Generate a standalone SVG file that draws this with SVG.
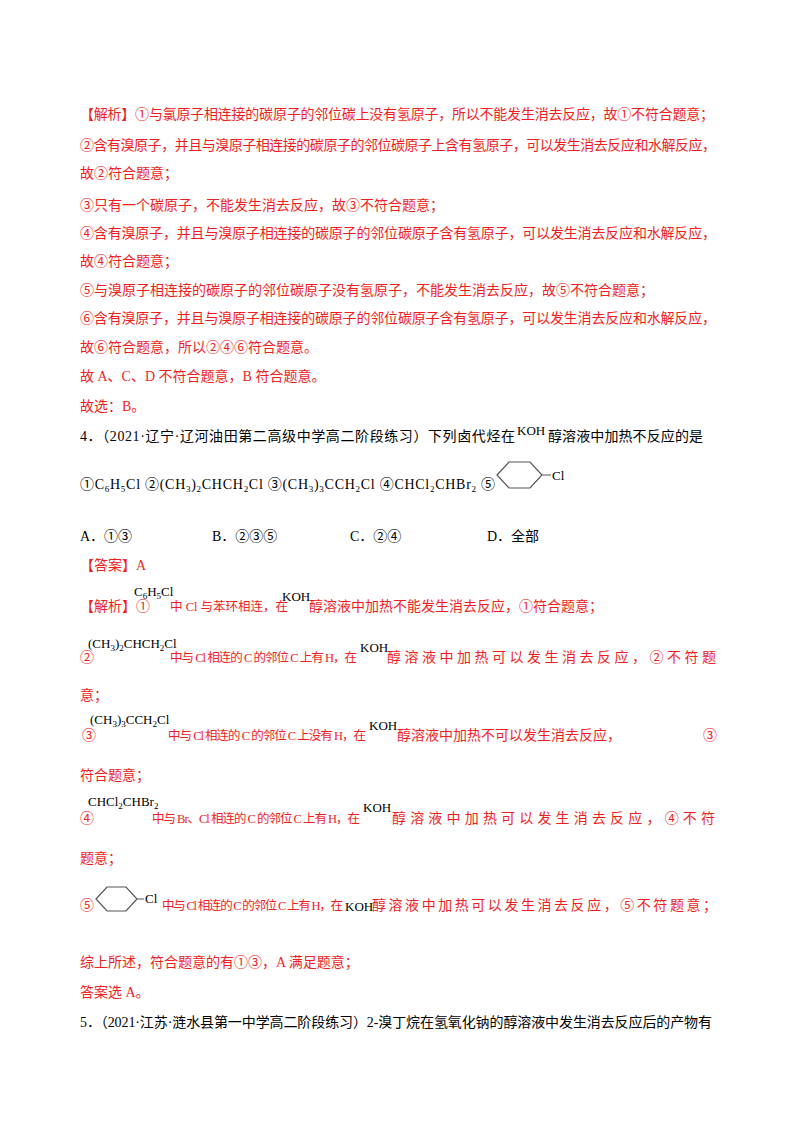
<svg xmlns="http://www.w3.org/2000/svg" width="800" height="1132" viewBox="0 0 800 1132">
<style>
text{font-family:"Liberation Serif","Noto Sans CJK SC",serif;font-size:14px}
.r{fill:#f01e1e}
.k{fill:#000}
.n{font-size:12.5px}
.f{font-family:"Liberation Serif",serif;font-size:13px;fill:#000}
.s{font-size:9px}
.ring{fill:none;stroke:#555;stroke-width:1.2}
</style>
<rect width="800" height="1132" fill="#fff"/>
<g class="r">
<text x="80" y="119" class="r" textLength="634">【解析】①与氯原子相连接的碳原子的邻位碳上没有氢原子，所以不能发生消去反应，故①不符合题意；</text>
<text x="80" y="150" class="r" textLength="636">②含有溴原子，并且与溴原子相连接的碳原子的邻位碳原子上含有氢原子，可以发生消去反应和水解反应，</text>
<text x="80" y="178" class="r">故②符合题意；</text>
<text x="80" y="210" class="r">③只有一个碳原子，不能发生消去反应，故③不符合题意；</text>
<text x="80" y="238" class="r" textLength="636">④含有溴原子，并且与溴原子相连接的碳原子的邻位碳原子含有氢原子，可以发生消去反应和水解反应，</text>
<text x="80" y="266" class="r">故④符合题意；</text>
<text x="80" y="295" class="r">⑤与溴原子相连接的碳原子的邻位碳原子没有氢原子，不能发生消去反应，故⑤不符合题意；</text>
<text x="80" y="323" class="r" textLength="636">⑥含有溴原子，并且与溴原子相连接的碳原子的邻位碳原子含有氢原子，可以发生消去反应和水解反应，</text>
<text x="80" y="352" class="r">故⑥符合题意，所以②④⑥符合题意。</text>
<text x="80" y="381" class="r">故 A、C、D 不符合题意，B 符合题意。</text>
<text x="80" y="411" class="r">故选：B。</text>
</g>
<g id="q4">
<text x="80" y="441" class="k" textLength="435">4．（2021·辽宁·辽河油田第二高级中学高二阶段练习）下列卤代烃在</text>
<text x="517" y="435" class="f">KOH</text>
<text x="548" y="441" class="k" textLength="155">醇溶液中加热不反应的是</text>
<text x="80" y="489" class="k" textLength="415">①C<tspan class="s" dy="3">6</tspan><tspan dy="-3">H</tspan><tspan class="s" dy="3">5</tspan><tspan dy="-3">Cl  ②(CH</tspan><tspan class="s" dy="3">3</tspan><tspan dy="-3">)</tspan><tspan class="s" dy="3">2</tspan><tspan dy="-3">CHCH</tspan><tspan class="s" dy="3">2</tspan><tspan dy="-3">Cl  ③(CH</tspan><tspan class="s" dy="3">3</tspan><tspan dy="-3">)</tspan><tspan class="s" dy="3">3</tspan><tspan dy="-3">CCH</tspan><tspan class="s" dy="3">2</tspan><tspan dy="-3">Cl  ④CHCl</tspan><tspan class="s" dy="3">2</tspan><tspan dy="-3">CHBr</tspan><tspan class="s" dy="3">2</tspan><tspan dy="-3">  ⑤</tspan></text>
<path class="ring" d="M497,475 L509,462 L530,462 L542,475 L530,488 L509,488 Z M542,475 L551,475"/>
<text x="552" y="480" class="f">Cl</text>
<text x="80" y="541" class="k">A．①③</text>
<text x="212" y="541" class="k">B．②③⑤</text>
<text x="350" y="541" class="k">C．②④</text>
<text x="487" y="541" class="k">D．全部</text>
</g>
<g id="answer">
<text x="80" y="570" class="r">【答案】A</text>
<text x="80" y="611" class="r">【解析】①</text>
<text x="134" y="596" class="f">C<tspan class="s" dy="3">6</tspan><tspan dy="-3">H</tspan><tspan class="s" dy="3">5</tspan><tspan dy="-3">Cl</tspan></text>
<text x="170" y="611" class="r n">中 Cl 与苯环相连，在</text>
<text x="282" y="601" class="f">KOH</text>
<text x="309" y="611" class="r">醇溶液中加热不能发生消去反应，①符合题意；</text>
<text x="80" y="662" class="r">②</text>
<text x="88" y="648" class="f">(CH<tspan class="s" dy="3">3</tspan><tspan dy="-3">)</tspan><tspan class="s" dy="3">2</tspan><tspan dy="-3">CHCH</tspan><tspan class="s" dy="3">2</tspan><tspan dy="-3">Cl</tspan></text>
<text x="170" y="662" class="r n" textLength="187">中与 Cl 相连的 C 的邻位 C 上有 H，在</text>
<text x="360" y="652" class="f">KOH</text>
<text x="387" y="662" class="r" textLength="329">醇溶液中加热可以发生消去反应，②不符题</text>
<text x="80" y="700" class="r">意；</text>
<text x="82" y="740" class="r">③</text>
<text x="90" y="724" class="f">(CH<tspan class="s" dy="3">3</tspan><tspan dy="-3">)</tspan><tspan class="s" dy="3">3</tspan><tspan dy="-3">CCH</tspan><tspan class="s" dy="3">2</tspan><tspan dy="-3">Cl</tspan></text>
<text x="168" y="740" class="r n" textLength="198">中与 Cl 相连的 C 的邻位 C 上没有 H，在</text>
<text x="369" y="730" class="f">KOH</text>
<text x="397" y="740" class="r">醇溶液中加热不可以发生消去反应，</text>
<text x="703" y="740" class="r">③</text>
<text x="80" y="780" class="r">符合题意；</text>
<text x="80" y="823" class="r">④</text>
<text x="88" y="806" class="f">CHCl<tspan class="s" dy="3">2</tspan><tspan dy="-3">CHBr</tspan><tspan class="s" dy="3">2</tspan></text>
<text x="152" y="823" class="r n" textLength="208">中与 Br、Cl 相连的 C 的邻位 C 上有 H，在</text>
<text x="363" y="812" class="f">KOH</text>
<text x="392" y="823" class="r" textLength="323">醇溶液中加热可以发生消去反应，④不符</text>
<text x="80" y="863" class="r">题意；</text>
<text x="80" y="910" class="r">⑤</text>
<path class="ring" d="M96,899 L107,887 L126,887 L137,899 L126,911 L107,911 Z M137,899 L144,899"/>
<text x="145" y="903" class="f">Cl</text>
<text x="162" y="910" class="r n" textLength="181">中与 Cl 相连的 C 的邻位 C 上有 H，在</text>
<text x="345" y="911" class="f">KOH</text>
<text x="372" y="910" class="r" textLength="345">醇溶液中加热可以发生消去反应，⑤不符题意；</text>
<text x="80" y="967" class="r">综上所述，符合题意的有①③，A 满足题意；</text>
<text x="80" y="997" class="r">答案选 A。</text>
</g>
<text x="80" y="1027" class="k" textLength="632">5．（2021·江苏·涟水县第一中学高二阶段练习）2-溴丁烷在氢氧化钠的醇溶液中发生消去反应后的产物有</text>
</svg>
